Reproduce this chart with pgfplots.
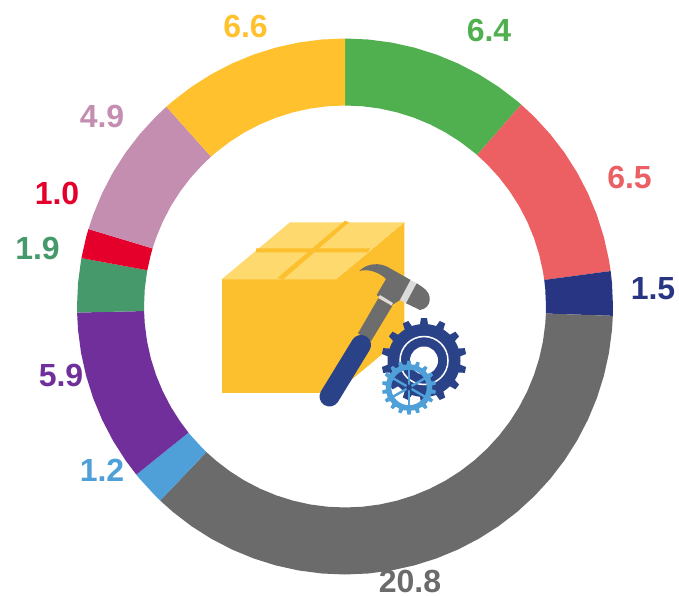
\documentclass[border=0pt]{standalone}
\usepackage{pgfplots}
\pgfplotsset{compat=1.18}
\usepackage{fontspec}
\setmainfont{Liberation Sans}
\definecolor{cG}{HTML}{50B050}
\definecolor{cR}{HTML}{EC5F63}
\definecolor{cN}{HTML}{283583}
\definecolor{cK}{HTML}{6B6B6B}
\definecolor{cB}{HTML}{4F9FD9}
\definecolor{cP}{HTML}{702F9A}
\definecolor{cD}{HTML}{46996A}
\definecolor{cE}{HTML}{E4002B}
\definecolor{cI}{HTML}{C48EB0}
\definecolor{cY}{HTML}{FFC22E}
\definecolor{boxY}{HTML}{FCC02F}
\definecolor{boxL}{HTML}{FDD96E}
\definecolor{grip}{HTML}{2A4288}
\definecolor{ham}{HTML}{6D6D6D}
\newcommand{\lab}[4]{\node[text=#4,font=\fontsize{32}{32}\selectfont\bfseries,inner sep=0pt,anchor=center] at (axis cs:#1-345,306.5-#2) {#3};}
\begin{document}
\begin{tikzpicture}
\path[use as bounding box] (0,0) rectangle (679pt,595pt);
\begin{axis}[at={(0,0)},anchor=south west,scale only axis,width=679pt,height=595pt,
  xmin=-345,xmax=334,ymin=-288.5,ymax=306.5,hide axis,clip=false]
% green 6.4
\addplot[fill=cG,draw=none,data cs=polar] coordinates {(90,268)(85,268)(80,268)(75,268)(70,268)(65,268)(60,268)(55,268)(50,268)(48.9,268)(48.9,201)(50,201)(55,201)(60,201)(65,201)(70,201)(75,201)(80,201)(85,201)(90,201)(90,268)};
% red 6.5
\addplot[fill=cR,draw=none,data cs=polar] coordinates {(48.9,268)(45,268)(40,268)(35,268)(30,268)(25,268)(20,268)(15,268)(10,268)(7.6,268)(7.6,201)(10,201)(15,201)(20,201)(25,201)(30,201)(35,201)(40,201)(45,201)(48.9,201)(48.9,268)};
% navy 1.5
\addplot[fill=cN,draw=none,data cs=polar] coordinates {(7.6,268)(5,268)(0,268)(-2,268)(-2,201)(0,201)(5,201)(7.6,201)(7.6,268)};
% grey 20.8
\addplot[fill=cK,draw=none,data cs=polar] coordinates {(-2,268)(-5,268)(-10,268)(-15,268)(-20,268)(-25,268)(-30,268)(-35,268)(-40,268)(-45,268)(-50,268)(-55,268)(-60,268)(-65,268)(-70,268)(-75,268)(-80,268)(-85,268)(-90,268)(-95,268)(-100,268)(-105,268)(-110,268)(-115,268)(-120,268)(-125,268)(-130,268)(-133.6,268)(-133.6,201)(-130,201)(-125,201)(-120,201)(-115,201)(-110,201)(-105,201)(-100,201)(-95,201)(-90,201)(-85,201)(-80,201)(-75,201)(-70,201)(-65,201)(-60,201)(-55,201)(-50,201)(-45,201)(-40,201)(-35,201)(-30,201)(-25,201)(-20,201)(-15,201)(-10,201)(-5,201)(-2,201)(-2,268)};
% blue 1.2
\addplot[fill=cB,draw=none,data cs=polar] coordinates {(-133.6,268)(-135,268)(-140,268)(-141.15,268)(-141.15,201)(-140,201)(-135,201)(-133.6,201)(-133.6,268)};
% purple 5.9
\addplot[fill=cP,draw=none,data cs=polar] coordinates {(-141.15,268)(-145,268)(-150,268)(-155,268)(-160,268)(-165,268)(-170,268)(-175,268)(-178.7,268)(-178.7,201)(-175,201)(-170,201)(-165,201)(-160,201)(-155,201)(-150,201)(-145,201)(-141.15,201)(-141.15,268)};
% dark green 1.9
\addplot[fill=cD,draw=none,data cs=polar] coordinates {(-178.7,268)(-180,268)(-185,268)(-190,268)(-190.4,268)(-190.4,201)(-190,201)(-185,201)(-180,201)(-178.7,201)(-178.7,268)};
% red 1.0
\addplot[fill=cE,draw=none,data cs=polar] coordinates {(-190.4,268)(-195,268)(-196.8,268)(-196.8,201)(-195,201)(-190.4,201)(-190.4,268)};
% pink 4.9
\addplot[fill=cI,draw=none,data cs=polar] coordinates {(-196.8,268)(-200,268)(-205,268)(-210,268)(-215,268)(-220,268)(-225,268)(-228.2,268)(-228.2,201)(-225,201)(-220,201)(-215,201)(-210,201)(-205,201)(-200,201)(-196.8,201)(-196.8,268)};
% yellow 6.6
\addplot[fill=cY,draw=none,data cs=polar] coordinates {(-228.2,268)(-230,268)(-235,268)(-240,268)(-245,268)(-250,268)(-255,268)(-260,268)(-265,268)(-270,268)(-270,201)(-265,201)(-260,201)(-255,201)(-250,201)(-245,201)(-240,201)(-235,201)(-230,201)(-228.2,201)(-228.2,268)};
\lab{245.5}{26}{6.6}{cY}
\lab{489}{30}{6.4}{cG}
\lab{629.5}{177}{6.5}{cR}
\lab{653}{289}{1.5}{cN}
\lab{410}{581}{20.8}{cK}
\lab{102}{470}{1.2}{cB}
\lab{61}{375}{5.9}{cP}
\lab{37.5}{248}{1.9}{cD}
\lab{57}{193.5}{1.0}{cE}
\lab{102}{116}{4.9}{cI}
\end{axis}
\begin{scope}[x=1pt,y=-1pt,shift={(0pt,595pt)}]
% box
\fill[boxY] (221.7,279.3) rectangle (336,392.7);
\fill[boxY] (336,279.3)--(404.3,222.3)--(404.3,335.7)--(336,392.7)--cycle;
\fill[boxL] (221.7,279.3)--(290,222.3)--(404.3,222.3)--(336,279.3)--cycle;
\fill[boxY] (256,248.3)--(370,248.3)--(368,252.3)--(256,252.3)--cycle;
\fill[boxY] (277.3,278)--(345,220.7)--(349,222.3)--(283.3,279.3)--cycle;
% hammer
\fill[ham] (358,333.3)--(378.3,298.3)--(392.3,306)--(370.7,341.7)--cycle;
\draw[grip,line width=20pt,line cap=round] (329.5,396.5)--(361,345);
\fill[ham] (359.3,271) .. controls (366.7,263.3) and (380,261.7) .. (390,268.3)
  -- (410.7,280) -- (400,300) -- (391.7,305.3) -- (376.7,295) -- (386,279)
  .. controls (380,272.7) and (368.3,268.3) .. cycle;
\fill[ham!25] (378.3,297.7)--(380,295)--(393,303)--(391.5,305.5)--cycle;
\fill[ham!25] (410.7,280)--(416.7,283.3)--(406,303.3)--(400,300)--cycle;
\fill[ham] (416.7,283.3)--(422.7,287.3) .. controls (433.3,294) and (431.7,308.3) .. (420,310)
  --(406,303.3)--cycle;
% big gear
\begin{scope}[shift={(424pt,-360.5pt)}]
\fill[grip] (0,0) circle (36.5pt);
\foreach \i in {0,...,13}{\fill[grip,rotate=\i*360/14] (-4.2,-35)--(-3,-42.5)--(3,-42.5)--(4.2,-35)--cycle;}
\draw[white,line width=1.5pt] (0,0) circle (24pt);
\fill[white] (0,0) circle (14pt);
\end{scope}
% small gear
\begin{scope}[shift={(409pt,-387.5pt)}]
\draw[cB,line width=5.5pt] (0,0) circle (20.5pt);
\foreach \i in {0,...,17}{\fill[cB,rotate=\i*20] (-2.4,-22)--(-1.6,-27)--(1.6,-27)--(2.4,-22)--cycle;}
\foreach \i in {0,...,5}{\draw[cB,line width=2.4pt,rotate=\i*60] (0,0)--(0,-20);}
\fill[grip] (0,0) circle (3pt);
\end{scope}
\end{scope}
\end{tikzpicture}
\end{document}
